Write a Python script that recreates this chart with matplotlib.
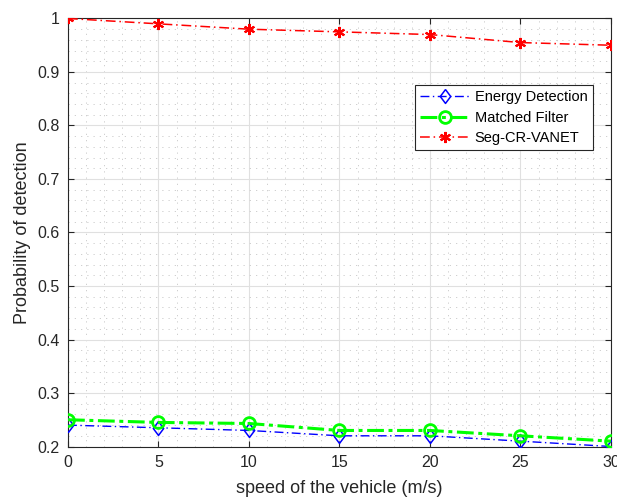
import matplotlib
matplotlib.use("Agg")
import matplotlib.pyplot as plt
from matplotlib.ticker import MultipleLocator

plt.rcParams['font.family'] = ['Liberation Sans', 'DejaVu Sans']

speed = [0, 5, 10, 15, 20, 25, 30]
energy = [0.24, 0.235, 0.23, 0.22, 0.22, 0.21, 0.20]
matched = [0.25, 0.245, 0.243, 0.23, 0.23, 0.22, 0.21]
segcr = [1.0, 0.99, 0.98, 0.975, 0.97, 0.955, 0.95]
yticks = [0.2, 0.3, 0.4, 0.5, 0.6, 0.7, 0.8, 0.9, 1.0]
yticklabels = ['0.2', '0.3', '0.4', '0.5', '0.6', '0.7', '0.8', '0.9', '1']

diamond = [(0, 1), (0.75, 0), (0, -1), (-0.75, 0), (0, 1)]

fig = plt.figure(figsize=(6.17, 4.97), dpi=100)
ax = fig.add_axes([0.1102, 0.1016, 0.880, 0.8612])

ax.plot(speed, energy, color='#0000ff', linestyle=(0, (6.4, 2.5, 1, 2.5)), linewidth=1.0,
        marker=diamond, markersize=10, markerfacecolor='none', markeredgewidth=1.1,
        markeredgecolor='#0000ff', label='Energy Detection', zorder=3)
ax.plot(speed, matched, color='#00ff00', linestyle=(0, (5.5, 1.5, 1.3, 1.5)), linewidth=2.2,
        marker='o', markersize=8.5, markerfacecolor='none', markeredgewidth=2,
        markeredgecolor='#00ff00', label='Matched Filter', zorder=4)
ax.plot(speed, segcr, color='#ff0000', linestyle=(0, (6.4, 2.5, 1, 2.5)), linewidth=1.1,
        marker=(6, 2, 0), markersize=8, markeredgewidth=1.5, markeredgecolor='#ff0000',
        label='Seg-CR-VANET', zorder=5)

ax.set_xlim(0, 30)
ax.set_ylim(0.2, 1.0)
ax.xaxis.set_major_locator(MultipleLocator(5))
ax.xaxis.set_minor_locator(MultipleLocator(1))
ax.yaxis.set_minor_locator(MultipleLocator(0.02))
ax.set_yticks(yticks)
ax.set_yticklabels(yticklabels)
ax.set_axisbelow(True)
ax.grid(True, which='major', color='#e0e0e0', linewidth=0.8, linestyle='-')
ax.grid(True, which='minor', color='#c8c8c8', linewidth=0.6, linestyle=(0, (1.5, 6)))
ax.tick_params(which='both', direction='in', top=True, right=True, labelsize=11.5,
               colors='#262626', pad=6)
ax.tick_params(which='minor', length=0)
ax.tick_params(which='major', length=4, width=0.8)
for s in ax.spines.values():
    s.set_color('#262626')
    s.set_linewidth(0.8)

ax.set_xlabel('speed of the vehicle (m/s)', fontsize=13, color='#262626', va='center')
ax.set_ylabel('Probability of detection', fontsize=13, color='#262626', va='center', ha='center')
ax.xaxis.set_label_coords(0.5, -0.097)
ax.yaxis.set_label_coords(-0.0847, 0.5)

leg = ax.legend(loc='upper left', bbox_to_anchor=(0.639, 0.8446), fontsize=10.5,
                frameon=True, fancybox=False, edgecolor='#262626', framealpha=1,
                handlelength=3.4, borderpad=0.35, labelspacing=0.45, handletextpad=0.35,
                borderaxespad=0)
leg.get_frame().set_linewidth(0.8)

fig.savefig('out.png', dpi=100)
